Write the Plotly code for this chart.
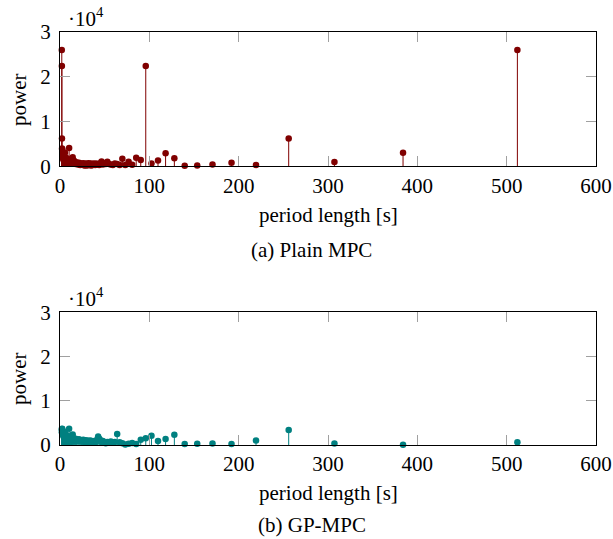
import plotly.graph_objects as go

# period lengths [s] (shared by both spectra)
periods = [512, 384, 307.2, 256, 219.4, 192, 170.7, 153.6, 139.6, 128, 118.2, 109.7, 102.4, 96,
           90.4, 85.3, 80.8, 76.8, 73.1, 69.8, 66.8, 64, 61.4, 59.1, 56.9, 54.9, 53, 51.2, 49.5, 48,
           46.5, 45.2, 43.9, 42.7, 41.5, 40.4, 39.4, 38.4, 37.5, 36.6, 35.7, 34.9, 34.1, 33.4, 32.7,
           32, 31.3, 30.7, 30.1, 29.5, 29, 28.4, 27.9, 27.4, 26.9, 26.5, 26, 25.6, 24, 22.6, 21.3,
           20.2, 19.2, 18.3, 17.5, 16.7, 16, 15.4, 14.8, 14.2, 13.7, 13.2, 12.8, 12.3, 11.9, 11.5,
           11, 10.6, 10.2, 9.8, 9.4, 9, 8.6, 8.2, 7.8, 7.4, 7, 6.6, 6.2, 5.8, 5.5, 5.2, 4.9, 4.6,
           4.3, 4, 3.7, 3.4, 3.1, 2.9, 2.7, 2.5, 2.3, 2.2, 2.1, 2.0]

power_mpc = [26000, 3000, 950, 6200, 300, 800, 400, 200, 100, 1800, 2900, 1300, 600, 22400,
             1400, 1900, 350, 1000, 300, 1700, 300, 500, 600, 300, 400, 500, 1000, 500, 700, 400,
             1100, 700, 300, 500, 400, 600, 300, 400, 600, 300, 500, 200, 600, 300, 400,
             700, 300, 500, 200, 400, 600, 300, 500, 200, 400, 300, 700, 400, 600, 300, 800,
             400, 600, 900, 500, 700, 1200, 800, 1300, 2000, 900, 1500, 700, 1100, 800, 1400,
             900, 1200, 4100, 1300, 800, 1600, 1000, 1400, 900, 1800, 1100, 1500, 900, 2000, 3000, 1500, 1100, 1800,
             1300, 2200, 1600, 2500, 1900, 3200, 2600, 3800, 4000, 6200, 22400, 26000]

power_gp = [600, 50, 350, 3400, 1000, 200, 350, 300, 200, 2300, 1350, 900, 2100, 1500,
            1200, 200, 450, 300, 100, 400, 600, 2500, 700, 500, 800, 600, 700, 400, 500, 900,
            700, 1100, 1400, 1900, 1200, 800, 600, 900, 700, 500, 800, 600, 1000, 700, 900,
            600, 800, 1000, 700, 900, 600, 1100, 800, 700, 1000, 800, 1200, 900, 1100, 800, 1300,
            1000, 1200, 900, 1400, 1100, 1300, 1000, 1600, 2400, 1200, 1500, 1100, 1700, 1300, 1500,
            1200, 1800, 3700, 1600, 1300, 2000, 1500, 1800, 1200, 2200, 1600, 1900, 1400, 2300, 2800, 1700, 2000, 2500,
            1800, 2600, 2100, 3000, 2400, 3300, 2700, 3700, 3200, 3500, 2900, 3600]

assert len(periods) == len(power_mpc) == len(power_gp), (len(periods), len(power_mpc), len(power_gp))

x_ticks = [0, 100, 200, 300, 400, 500, 600]
y_ticks = [0, 10000, 20000, 30000]
y_tick_labels = ["0", "1", "2", "3"]

RED = "#800000"
TEAL = "#008080"
FONT = "Liberation Serif, Times New Roman, serif"
FS = 21

fig = go.Figure()


def add_stem(xs, ys, color, xa, ya):
    sx, sy = [], []
    for x, y in zip(xs, ys):
        sx += [x, x, None]
        sy += [0, y, None]
    fig.add_trace(go.Scatter(x=sx, y=sy, mode="lines", line=dict(color=color, width=1),
                             xaxis=xa, yaxis=ya, hoverinfo="skip", showlegend=False,
                             cliponaxis=False))
    fig.add_trace(go.Scatter(x=xs, y=ys, mode="markers", marker=dict(color=color, size=6.5),
                             xaxis=xa, yaxis=ya, showlegend=False, cliponaxis=False))


add_stem(periods, power_mpc, RED, "x", "y")
add_stem(periods, power_gp, TEAL, "x2", "y2")

H_TOP = 32
H_BOT = 94
PLOT_H = 539 - H_TOP - H_BOT


def frac(py):
    return (539 - H_BOT - py) / PLOT_H


axis_common = dict(showline=True, linecolor="black", linewidth=1, mirror="ticks",
                   ticks="inside", ticklen=10, tickwidth=1, tickcolor="#a0a0a0",
                   showgrid=False, zeroline=False, automargin=False,
                   tickfont=dict(family=FONT, size=FS, color="black"))

fig.update_layout(
    width=613, height=539,
    margin=dict(l=60, r=17, t=H_TOP, b=H_BOT, autoexpand=False),
    plot_bgcolor="white", paper_bgcolor="white",
    font=dict(family=FONT, size=FS, color="black"),
    xaxis=dict(domain=[0, 1], range=[0, 600], tickvals=x_ticks, anchor="y", **axis_common),
    yaxis=dict(domain=[frac(166.3), 1], range=[0, 30000], tickvals=y_ticks, ticktext=y_tick_labels,
               anchor="x", ticklabelstandoff=4, **axis_common),
    xaxis2=dict(domain=[0, 1], range=[0, 600], tickvals=x_ticks, anchor="y2", **axis_common),
    yaxis2=dict(domain=[0, frac(312.3)], range=[0, 30000], tickvals=y_ticks, ticktext=y_tick_labels,
                anchor="x2", ticklabelstandoff=4, **axis_common),
)


def px_x(px):
    return (px - 60) / 536


annots = [
    dict(text="·10<sup>4</sup>", x=px_x(66), y=frac(17), xanchor="left", yanchor="middle"),
    dict(text="·10<sup>4</sup>", x=px_x(66), y=frac(297), xanchor="left", yanchor="middle"),
    dict(text="period length [s]", x=px_x(328), y=frac(215), xanchor="center", yanchor="middle"),
    dict(text="period length [s]", x=px_x(328), y=frac(493), xanchor="center", yanchor="middle"),
    dict(text="(a) Plain MPC", x=px_x(311), y=frac(250), xanchor="center", yanchor="middle"),
    dict(text="(b) GP-MPC", x=px_x(312), y=frac(525), xanchor="center", yanchor="middle"),
    dict(text="power", x=px_x(19), y=frac(100), xanchor="center", yanchor="middle", textangle=-90),
    dict(text="power", x=px_x(19), y=frac(379), xanchor="center", yanchor="middle", textangle=-90),
]
for a in annots:
    fig.add_annotation(xref="paper", yref="paper", showarrow=False,
                       font=dict(family=FONT, size=FS, color="black"), **a)

fig.write_html("out.html", config={"displayModeBar": False, "staticPlot": True},
               post_script="document.body.style.margin='0';document.body.style.overflow='hidden';")
